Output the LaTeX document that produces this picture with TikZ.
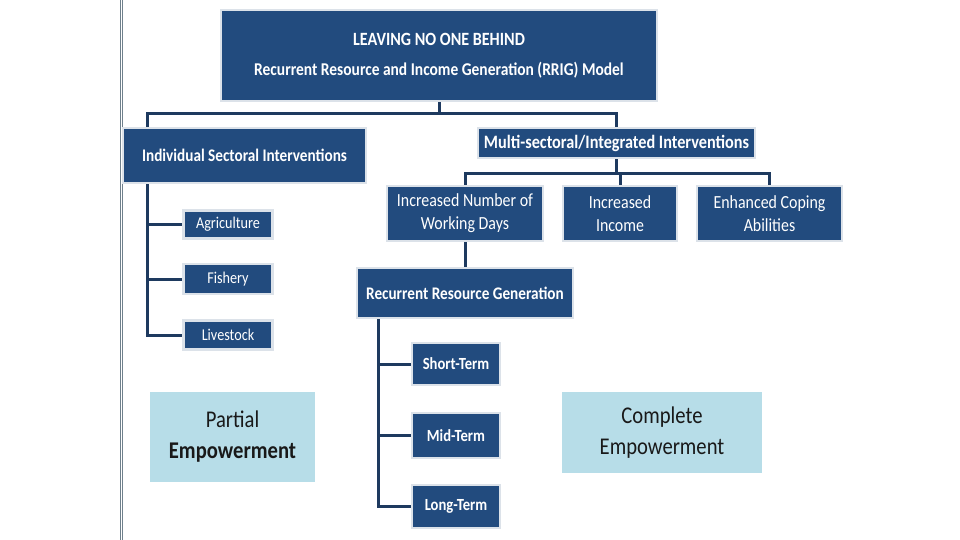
\documentclass[tikz,border=0pt]{standalone}
\usepackage{fontspec}
\setmainfont[FakeStretch=0.86]{Carlito}
\usetikzlibrary{positioning}
\definecolor{navy}{HTML}{224B7E}
\definecolor{halo}{HTML}{DCE2E9}
\definecolor{linec}{HTML}{1E3A5F}
\definecolor{lblue}{HTML}{B7DDE8}
\definecolor{vline}{HTML}{6F808C}
\tikzset{
  dbox/.style={rectangle, fill=navy, draw=halo, line width=2.5pt, text=white, align=center, inner sep=0pt},
  lbox/.style={rectangle, fill=lblue, draw=none, text=black!90, align=center, inner sep=0pt, font=\fontsize{24}{31}\selectfont},
  conn/.style={draw=linec, line width=3pt},
}
\begin{document}
\begin{tikzpicture}[x=1pt,y=-1pt]
\useasboundingbox (0,0) rectangle (960,540);
\fill[white] (0,0) rectangle (960,540);
\draw[vline, line width=0.8pt] (120,0) -- (120,540);
\draw[vline, line width=0.8pt] (122.6,0) -- (122.6,540);

\node[dbox, minimum width=436, minimum height=91, font=\bfseries\fontsize{18}{30}\selectfont] (top) at (439,55.5)
  {\fontsize{18.7}{30}\selectfont LEAVING NO ONE BEHIND\\Recurrent Resource and Income Generation (RRIG) Model};
\node[dbox, minimum width=243, minimum height=55, font=\bfseries\fontsize{17.7}{20}\selectfont] (ind) at (244.5,155.5) {Individual Sectoral Interventions};
\node[dbox, minimum width=277, minimum height=30, font=\bfseries\fontsize{18.9}{20}\selectfont] (multi) at (616.5,143) {Multi-sectoral/Integrated Interventions};

\node[dbox, minimum width=156, minimum height=55, font=\fontsize{18.5}{23}\selectfont] (incnum) at (465,213.5) {Increased Number of\\Working Days};
\node[dbox, minimum width=114, minimum height=55, font=\fontsize{18.5}{23}\selectfont] (incinc) at (620,213.5) {Increased\\Income};
\node[dbox, minimum width=145, minimum height=55, font=\fontsize{18.5}{23}\selectfont] (enh) at (769.5,213.5) {Enhanced Coping\\Abilities};

\node[dbox, minimum width=216, minimum height=50, font=\bfseries\fontsize{17.7}{18}\selectfont] (recur) at (465,293) {Recurrent Resource Generation};

\node[dbox, minimum width=89, minimum height=28, font=\fontsize{16.5}{18}\selectfont] (agri) at (228,224.5) {Agriculture};
\node[dbox, minimum width=89, minimum height=30, font=\fontsize{16.5}{18}\selectfont] (fish) at (228,279) {Fishery};
\node[dbox, minimum width=89, minimum height=29, font=\fontsize{16.5}{18}\selectfont] (live) at (228,335) {Livestock};

\node[dbox, minimum width=88, minimum height=42, font=\bfseries\fontsize{17}{18}\selectfont] (short) at (456,364) {Short-Term};
\node[dbox, minimum width=88, minimum height=45, font=\bfseries\fontsize{17}{18}\selectfont] (mid) at (456,435.5) {Mid-Term};
\node[dbox, minimum width=88, minimum height=43, font=\bfseries\fontsize{17}{18}\selectfont] (long) at (456,506.5) {Long-Term};

\node[lbox, minimum width=165, minimum height=90] (partial) at (232.5,437) {Partial\\\textbf{Empowerment}};
\node[lbox, minimum width=200, minimum height=81] (complete) at (662,432.5) {Complete\\Empowerment};

\coordinate (busA) at (0,114);
\coordinate (busB) at (0,174);
\coordinate (xA) at (147,0);
\coordinate (xB) at (378,0);

\draw[conn] (top.south) -- (top.south |- busA);
\draw[conn] (xA |- ind.north) |- (busA -| multi.north) -- (multi.north);

\draw[conn] (multi.south) -- (multi.south |- busB);
\draw[conn] (incnum.north) |- (busB -| enh.north) -- (enh.north);
\draw[conn] (incinc.north) -- (incinc.north |- busB);

\draw[conn] (incnum.south) -- (recur.north);

\draw[conn] (xA |- ind.south) |- (live.west);
\draw[conn] (xA |- agri.west) -- (agri.west);
\draw[conn] (xA |- fish.west) -- (fish.west);

\draw[conn] (xB |- recur.south) |- (long.west);
\draw[conn] (xB |- short.west) -- (short.west);
\draw[conn] (xB |- mid.west) -- (mid.west);
\end{tikzpicture}
\end{document}
